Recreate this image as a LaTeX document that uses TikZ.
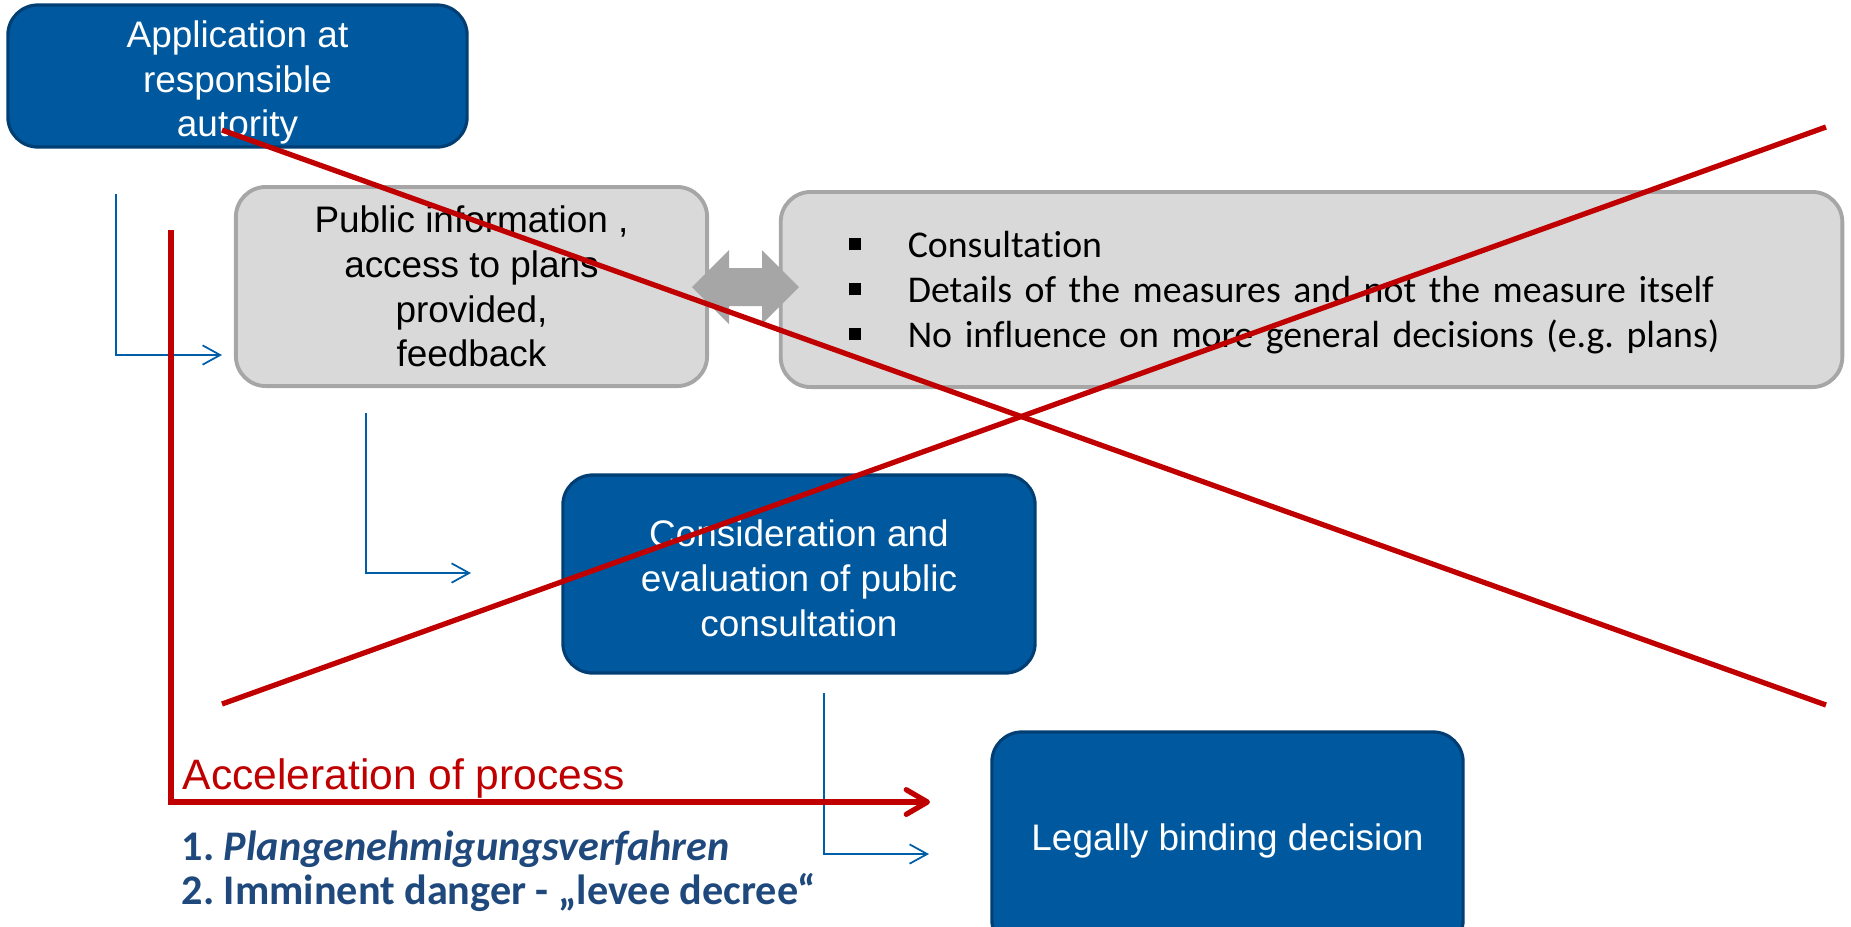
\documentclass[tikz,border=0pt]{standalone}
\usepackage{fontspec}
\setmainfont{Liberation Sans}
\newfontfamily\calibri[Ligatures={NoCommon,NoContextual}]{Carlito}
\usetikzlibrary{arrows.meta}

\definecolor{boxblue}{RGB}{0,89,158}
\definecolor{boxedge}{RGB}{0,62,115}
\definecolor{greyfill}{RGB}{217,217,217}
\definecolor{greyedge}{RGB}{166,166,166}
\definecolor{flowblue}{RGB}{0,94,168}
\definecolor{crossred}{RGB}{192,0,0}
\definecolor{navy}{RGB}{31,73,125}

\newcommand{\boxfont}{\fontsize{10.5}{12.7}\selectfont}
\newcommand{\sqbullet}{\makebox[16.8pt][l]{\raisebox{2pt}{\rule{3.4pt}{3.4pt}}}}
\newcommand{\toppad}[1]{\rule{0pt}{#1}}

\tikzset{
  bluebox/.style={draw=boxedge, fill=boxblue, line width=0.9pt, rounded corners=0.3cm,
    text=white, font=\boxfont, align=center, inner sep=0pt},
  greybox/.style={draw=greyedge, fill=greyfill, line width=1.1pt, rounded corners=0.3cm,
    font=\boxfont, align=center, inner sep=0pt},
  flow/.style={draw=flowblue, line width=0.5pt, -{Straight Barb[length=5pt,width=5.5pt]}},
  speed/.style={draw=crossred, line width=1.5pt,
    -{Straight Barb[length=6pt,width=7pt,line cap=round,line join=round]}},
  cross/.style={draw=crossred, line width=1.5pt},
}

\begin{document}
\frenchspacing
\begin{tikzpicture}[x=0.01cm, y=-0.01cm]
    \clip (0,0) rectangle (1851,926);

    % steps of the procedure
    \node[bluebox, minimum width=4.59cm, minimum height=1.42cm] (apply) at (237.5,76)
        {\toppad{11.4pt}Application at\\ responsible\\ autority};
    \node[greybox, minimum width=4.71cm, minimum height=1.99cm] (inform) at (471.5,286.5)
        {Public information ,\\ access to plans\\ provided,\\ feedback};
    \node[greybox, align=left, inner xsep=0.68cm, text width=9.25cm, minimum height=1.95cm,
        font=\calibri\fontsize{10.75}{12.8}\selectfont] (consult) at (1311.5,289.5)
        {\toppad{9.2pt}\sqbullet Consultation\\
         \sqbullet Details of the measures and not the measure itself\\
         \sqbullet No influence on more general decisions (e.g. plans)};
    \node[bluebox, minimum width=4.72cm, minimum height=1.98cm] (weigh) at (799,574)
        {\toppad{10pt}Consideration and\\ evaluation of public\\ consultation};
    \node[bluebox, minimum width=4.71cm, minimum height=2.18cm] (decide) at (1227.5,841)
        {Legally binding decision};

    % two-way link between public information and consultation
    \fill[greyedge] (692,287) -- (729,250) -- (729,268) -- (762,268) -- (762,250)
        -- (799,287) -- (762,324) -- (762,306) -- (729,306) -- (729,324) -- cycle;

    % flow between the steps
    \coordinate (s1) at (116,194);
    \coordinate (e1) at (222,355);
    \coordinate (s2) at (366,413);
    \coordinate (e2) at (471,573);
    \coordinate (s3) at (824,693);
    \coordinate (e3) at (929,854);
    \draw[flow] (s1) |- (e1);
    \draw[flow] (s2) |- (e2);
    \draw[flow] (s3) |- (e3);

    % shortcut
    \coordinate (fast) at (171,230);
    \coordinate (fastend) at (930,802);
    \draw[speed] (fast) |- (fastend);
    \node[anchor=base west, inner sep=0pt, text=crossred, font=\fontsize{12.1}{14}\selectfont]
        (accel) at (182,789) {Acceleration of process};
    \node[anchor=base west, inner sep=0pt, align=left, text=navy,
        font=\calibri\bfseries\fontsize{12}{12.3}\selectfont] (modes) at (181,904)
        {1. \textit{Plangenehmigungsverfahren}\\ 2. Imminent danger - „levee decree“};

    % crossed out
    \draw[cross] (222,130) -- (1826,705);
    \draw[cross] (222,704) -- (1826,127);
\end{tikzpicture}
\end{document}
